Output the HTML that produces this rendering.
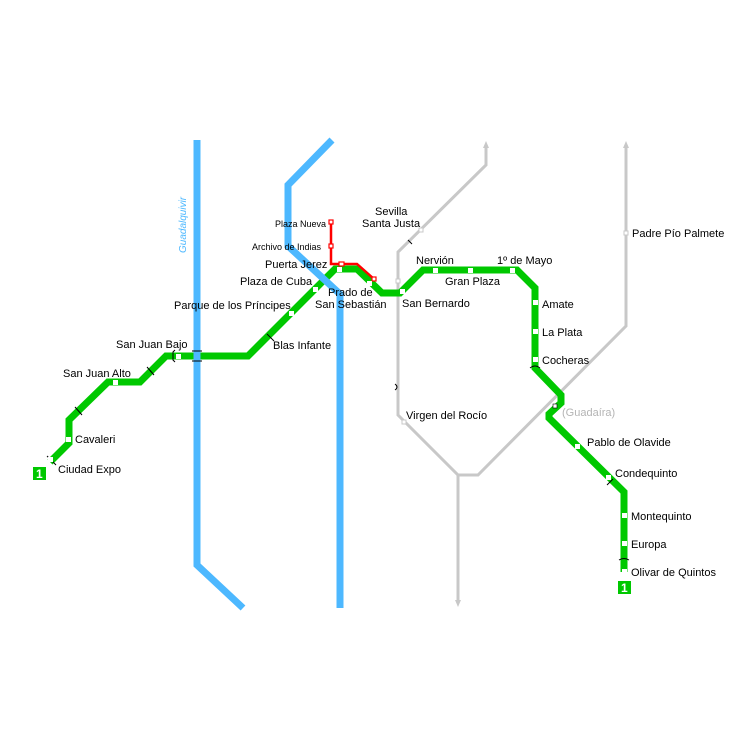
<!DOCTYPE html>
<html><head><meta charset="utf-8"><style>html,body{margin:0;padding:0;background:#fff}svg{display:block}text{font-family:"Liberation Sans",sans-serif;font-size:11px;fill:#000}</style></head><body>
<svg width="750" height="750" viewBox="0 0 750 750" xmlns="http://www.w3.org/2000/svg">
<rect width="750" height="750" fill="#fff"/>
<!-- gray lines -->
<g fill="none" stroke="#c8c8c8" stroke-width="3">
<polyline points="486,145 486,165 398,252 398,415 458,475 478,475 626,326 626,145"/>
<polyline points="458,475 458,603"/>
</g>
<polygon points="486,141 483,148 489,148" fill="#c8c8c8"/>
<polygon points="626,141 623,148 629,148" fill="#c8c8c8"/>
<polygon points="458,607 455,600 461,600" fill="#c8c8c8"/>
<!-- green line -->
<polyline points="50,462 69,443 69,420 108,382 140,382 166,356 248,356 335,269 357,269 382,293 400,293 423,270 517,270 535,288 535,368 561,395 561,403 549,414 549,418 624,492 624,572" fill="none" stroke="#00c800" stroke-width="7" stroke-linejoin="miter"/>
<!-- rivers (over green) -->
<polyline points="197,140 197,565 243,608" fill="none" stroke="#4db8ff" stroke-width="7"/>
<polyline points="332,140 288,185 288,246 340,294 340,608" fill="none" stroke="#4db8ff" stroke-width="7"/>
<text x="186" y="253" transform="rotate(-90 186 253)" style="fill:#4db8ff;font-style:italic;font-size:10px">Guadalquivir</text>
<!-- tick marks -->
<g stroke="#000" stroke-width="1" fill="none">
<path d="M47,456 L56,465"/><path d="M75,407 L82,415"/><path d="M147,367 L154,375"/>
<path d="M175,350 L173,352 L173,360 L175,362"/><path d="M192,351 L202,351 M192,361 L202,361"/>
<path d="M267,334 L274,341"/><path d="M530,368 Q535,364 540,368"/><path d="M607,485 L613,479"/>
<path d="M619,560 Q624,557 629,560"/><path d="M395,384 Q399,387 395,390" /><path d="M408,240 L412,244"/>
</g>
<!-- red line -->
<polyline points="331,222 331,264 357,264 374,279" fill="none" stroke="#f00" stroke-width="2.5"/>
<g fill="#fff" stroke="#f00" stroke-width="1.2">
<rect x="329" y="220" width="4" height="4"/><rect x="329" y="244" width="4" height="4"/><rect x="339" y="262" width="5" height="4"/><rect x="372" y="277" width="4" height="4"/>
</g>
<!-- gray stations -->
<g fill="#fff" stroke="#c8c8c8" stroke-width="1">
<rect x="419" y="228" width="4" height="4"/><rect x="396" y="279" width="4" height="4"/><rect x="402" y="420" width="4" height="4"/><rect x="624" y="231" width="4" height="4"/>
</g>
<!-- green stations -->
<g fill="#fff">
<rect x="48" y="457" width="5" height="5"/><rect x="66" y="437" width="5" height="5"/><rect x="113" y="380" width="5" height="5"/><rect x="176" y="354" width="5" height="5"/>
<rect x="289" y="311" width="5" height="5"/><rect x="313" y="287" width="5" height="5"/><rect x="337" y="267" width="5" height="5"/><rect x="367" y="281" width="5" height="5"/>
<rect x="400" y="289" width="5" height="5"/><rect x="433" y="268" width="5" height="5"/><rect x="468" y="268" width="5" height="5"/><rect x="510" y="268" width="5" height="5"/>
<rect x="533" y="300" width="5" height="5"/><rect x="533" y="329" width="5" height="5"/><rect x="533" y="357" width="5" height="5"/>
<rect x="575" y="444" width="5" height="5"/><rect x="606" y="475" width="5" height="5"/><rect x="622" y="513" width="5" height="5"/><rect x="622" y="541" width="5" height="5"/><rect x="622" y="569" width="5" height="5"/>
</g>
<rect x="553" y="404" width="4" height="4" fill="#fff" stroke="#000" stroke-width="0.6"/>
<!-- line badges -->
<rect x="33" y="467" width="13" height="13" fill="#00c800"/><text x="36" y="478" style="fill:#fff;font-weight:bold;font-size:12px">1</text>
<rect x="618" y="581" width="13" height="13" fill="#00c800"/><text x="621" y="592" style="fill:#fff;font-weight:bold;font-size:12px">1</text>
<!-- labels -->
<text x="58" y="473">Ciudad Expo</text>
<text x="75" y="443">Cavaleri</text>
<text x="63" y="377">San Juan Alto</text>
<text x="116" y="348">San Juan Bajo</text>
<text x="273" y="349">Blas Infante</text>
<text x="174" y="309">Parque de los Príncipes</text>
<text x="240" y="285">Plaza de Cuba</text>
<text x="265" y="268">Puerta Jerez</text>
<text x="275" y="227" style="font-size:9px">Plaza Nueva</text>
<text x="252" y="250" style="font-size:9px">Archivo de Indias</text>
<text x="328" y="296">Prado de</text>
<text x="315" y="308">San Sebastián</text>
<text x="375" y="215">Sevilla</text>
<text x="362" y="227">Santa Justa</text>
<text x="402" y="307">San Bernardo</text>
<text x="416" y="264">Nervión</text>
<text x="445" y="285">Gran Plaza</text>
<text x="497" y="264">1º de Mayo</text>
<text x="542" y="308">Amate</text>
<text x="542" y="336">La Plata</text>
<text x="542" y="364">Cocheras</text>
<text x="562" y="416" style="fill:#b4b4b4">(Guadaíra)</text>
<text x="587" y="446">Pablo de Olavide</text>
<text x="615" y="477">Condequinto</text>
<text x="631" y="520">Montequinto</text>
<text x="631" y="548">Europa</text>
<text x="631" y="576">Olivar de Quintos</text>
<text x="406" y="419">Virgen del Rocío</text>
<text x="632" y="237">Padre Pío Palmete</text>
</svg>
</body></html>
